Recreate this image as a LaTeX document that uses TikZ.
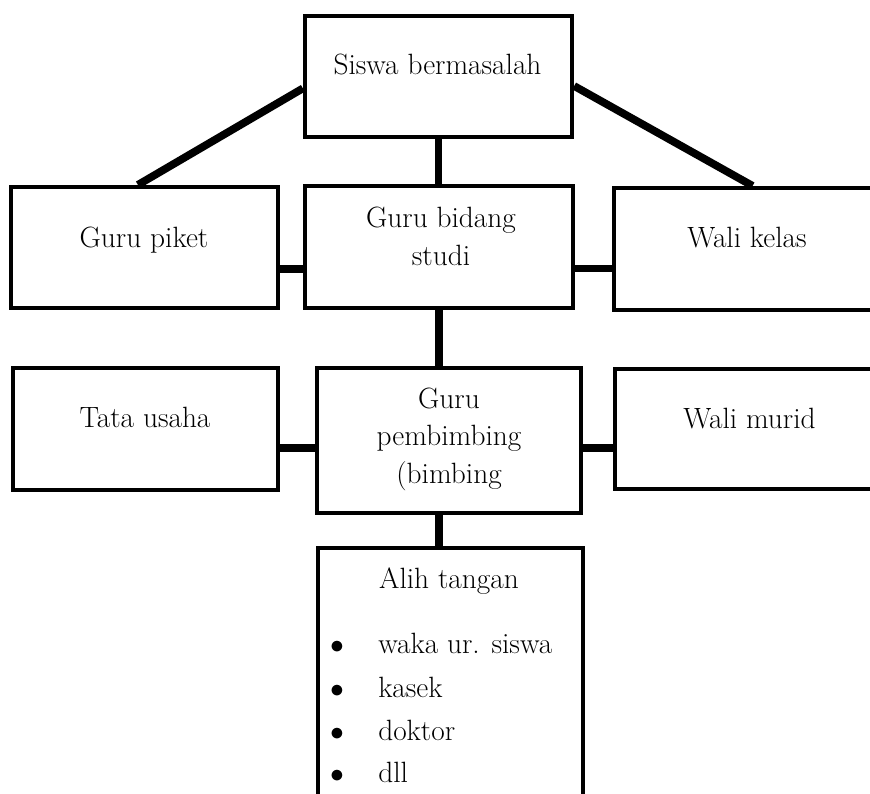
\documentclass[tikz,border=0pt]{standalone}
\tikzset{
  box/.style={draw, line width=3.2pt, inner sep=0pt},
  link/.style={line width=5.8pt},
  lbl/.style={font=\fontsize{22}{28}\selectfont, align=center, anchor=base, inner sep=0pt},
  entry/.style={font=\fontsize{22}{28}\selectfont, anchor=base west, inner sep=0pt},
}
\begin{document}
\begin{tikzpicture}[x=0.75pt,y=-0.75pt]
            \useasboundingbox (0,0) rectangle (870,793);
            \clip (0,0) rectangle (870,793);

            % boxes
            \node[box, minimum width=200.25pt, minimum height=90.75pt] (siswa) at (438.5,76.5) {};
            \node[box, minimum width=200.25pt, minimum height=90.75pt] (piket) at (144.5,247.5) {};
            \node[box, minimum width=201pt, minimum height=91.5pt] (bidang) at (439,247) {};
            \node[box, minimum width=214.5pt, minimum height=91.5pt] (walikelas) at (757,249) {};
            \node[box, minimum width=198.75pt, minimum height=91.5pt] (tata) at (145.5,429) {};
            \node[box, minimum width=198pt, minimum height=108.75pt] (pembimbing) at (449,440.5) {};
            \node[box, minimum width=213.75pt, minimum height=90pt] (walimurid) at (757.5,429) {};
            \node[box, minimum width=198.75pt, minimum height=211.5pt] (alih) at (450.5,689) {};

            % texts
            \node[lbl] (tsiswa) at (437.5,74) {Siswa bermasalah};
            \node[lbl] (tpiket) at (144,247) {Guru piket};
            \node[lbl] (tbidang) at (441,265) {Guru bidang\\studi};
            \node[lbl] (twalikelas) at (747,247) {Wali kelas};
            \node[lbl] (ttata) at (145,427) {Tata usaha};
            \node[lbl] (tpembimbing) at (449,483) {Guru\\pembimbing\\(bimbing};
            \node[lbl] (twalimurid) at (749.5,428) {Wali murid};
            \node[lbl] (talih) at (449,588) {Alih tangan};

            \node[lbl] (b1) at (337,653) {$\bullet$};
            \node[lbl] (b2) at (337,697) {$\bullet$};
            \node[lbl] (b3) at (337,740) {$\bullet$};
            \node[lbl] (b4) at (337,782) {$\bullet$};
            \node[entry] (e1) at (378,653) {waka ur. siswa};
            \node[entry] (e2) at (378,697) {kasek};
            \node[entry] (e3) at (378,740) {doktor};
            \node[entry] (e4) at (378,782) {dll};

            % connectors
            \draw[link] (siswa.185) -- (piket.96);
            \draw[link] (siswa.-4) -- (walikelas.94);
            \draw[link] (siswa.south) -- (siswa.south |- bidang.north);
            \draw[link] (piket.-9) -- (piket.-9 -| bidang.west);
            \draw[link] (bidang.-9) -- (bidang.-9 -| walikelas.west);
            \draw[link] (bidang.south) -- (bidang.south |- pembimbing.north);
            \draw[link] (tata.-8) -- (tata.-8 -| pembimbing.west);
            \draw[link] (tata.-8 -| pembimbing.east) -- (tata.-8 -| walimurid.west);
            \draw[link] (bidang.south |- pembimbing.south) -- (bidang.south |- alih.north);
\end{tikzpicture}
\end{document}
